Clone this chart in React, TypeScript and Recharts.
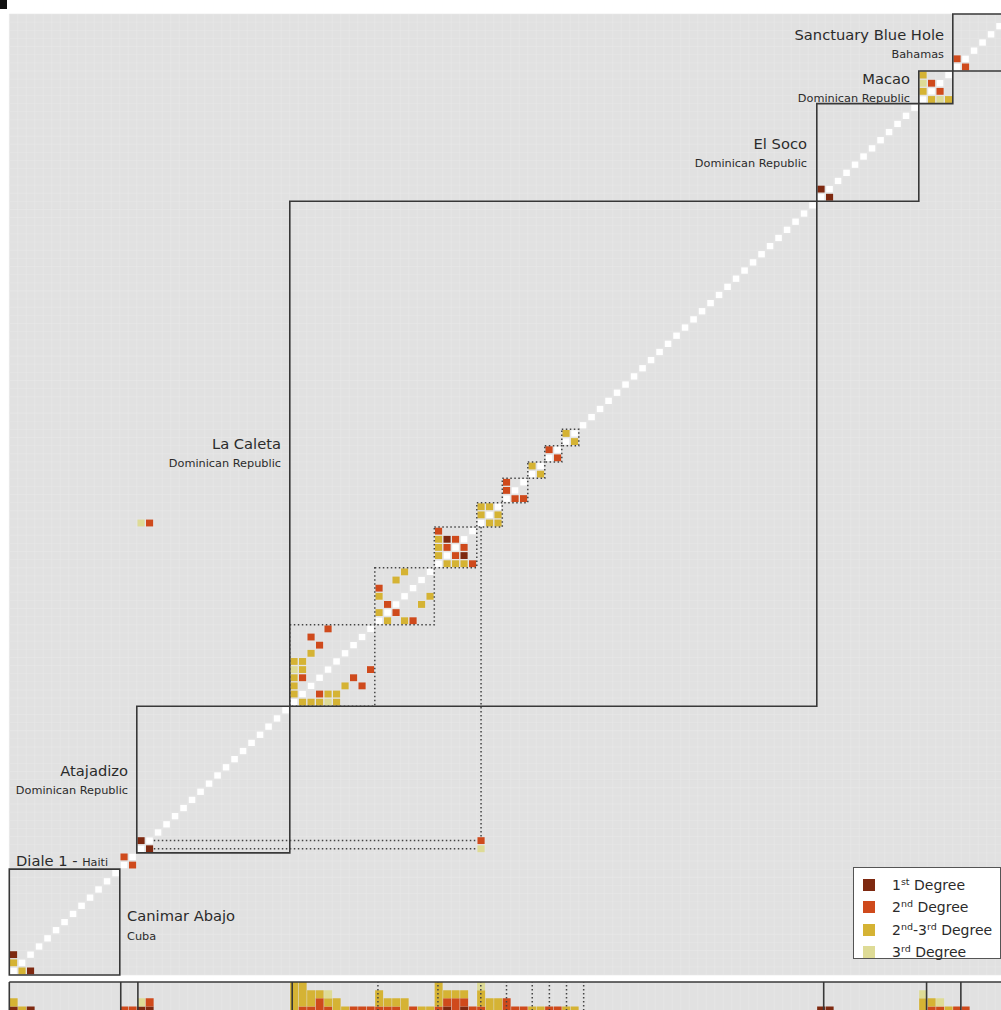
import React from 'react';
import {
  ComposedChart,
  XAxis,
  YAxis,
  ReferenceArea,
  ReferenceLine,
  CartesianGrid,
  Bar,
} from 'recharts';

// ---------------- data ----------------
const INDIVIDUALS = 118;

const siteNames = ['Canimar Abajo', 'Diale 1', 'Atajadizo', 'La Caleta', 'El Soco', 'Macao', 'Sanctuary Blue Hole'];
const siteCountries = ['Cuba', 'Haiti', 'Dominican Republic', 'Dominican Republic', 'Dominican Republic', 'Dominican Republic', 'Bahamas'];
const siteStarts = [0, 13, 15, 33, 95, 107, 111];
const siteEnds = [13, 15, 33, 95, 107, 111, 118];
const siteBoxed = [true, false, true, true, true, true, true];

const clusterStarts = [33, 43, 50, 55, 58, 61, 63, 65];
const clusterEnds = [43, 50, 55, 58, 61, 63, 65, 67];

const firstDegree = [[0, 2], [15, 16], [51, 53], [95, 96]];
const secondDegree = [
  [13, 14], [16, 55], [34, 36], [35, 41], [36, 40], [37, 42], [43, 47], [44, 45],
  [50, 54], [51, 52], [52, 53], [58, 59], [58, 60], [63, 64], [108, 109], [111, 112],
];
const secondThirdDegree = [
  [0, 1], [33, 34], [33, 35], [33, 36], [33, 38], [34, 37], [34, 38], [35, 39],
  [43, 44], [43, 46], [45, 48], [46, 49], [50, 51], [50, 52], [50, 53], [55, 56], [55, 57],
  [56, 57], [61, 62], [65, 66], [107, 108], [107, 110],
];
const thirdDegree = [[15, 55], [33, 37], [107, 109]];

const degreeKeys = ['first', 'second', 'secondThird', 'third'];
const degreeColors = ['#7e2910', '#cf4a1c', '#d5b334', '#dedb96'];
const degreeMain = ['1', '2', '2', '3'];
const degreeSup = ['st', 'nd', 'nd', 'rd'];
const degreeMid = ['', '', '-3', ''];
const degreeSup2 = ['', '', 'rd', ''];

const relationsByDegree = [firstDegree, secondDegree, secondThirdDegree, thirdDegree];

// connector dotted lines: [x1, y1, x2, y2] in matrix units
const connectorX1 = [17, 17, 55.5];
const connectorY1 = [16.5, 15.5, 17];
const connectorX2 = [55, 55, 55.5];
const connectorY2 = [16.5, 15.5, 55];

// ---------------- derived ----------------
const ids = Array.from({ length: INDIVIDUALS }, (_, i) => i);

type Cell = { c: number; r: number; color: string };
const cells: Cell[] = [];
relationsByDegree.forEach((pairs, d) => {
  pairs.forEach(([a, b]) => {
    cells.push({ c: a, r: b, color: degreeColors[d] });
    cells.push({ c: b, r: a, color: degreeColors[d] });
  });
});

const countData = ids.map((id) => {
  const row: any = { id, first: 0, second: 0, secondThird: 0, third: 0 };
  relationsByDegree.forEach((pairs, d) => {
    pairs.forEach(([a, b]) => {
      if (a === id || b === id) row[degreeKeys[d]] += 1;
    });
  });
  return row;
});

const INSET = 0.08;
const BG = '#e1e1e1';
const GRIDLINE = '#e7e7e7';
const BOX = '#383838';
const DOT = '#444';
const DASH = '1.5 2.5';
const TXT = '#2b2b2b';

const vGen = ({ xAxis, offset }: any) => {
  const t = Array.from({ length: INDIVIDUALS + 1 }, (_, i) => i);
  if (xAxis && typeof xAxis.scale === 'function') return t.map((v) => xAxis.scale(v));
  return t.map((v) => offset.left + (v * offset.width) / INDIVIDUALS);
};
const hGen = ({ yAxis, offset }: any) => {
  const t = Array.from({ length: INDIVIDUALS + 1 }, (_, i) => i);
  if (yAxis && typeof yAxis.scale === 'function') return t.map((v) => yAxis.scale(v));
  return t.map((v) => offset.top + (v * offset.height) / INDIVIDUALS);
};

function MainMatrix() {
  return (
    <ComposedChart
      width={1020}
      height={978}
      margin={{ top: 14, right: 7.7, bottom: 3, left: 9.3 }}
      data={[]}
    >
      <XAxis type="number" dataKey="x" domain={[0, INDIVIDUALS]} hide allowDataOverflow />
      <YAxis type="number" domain={[0, INDIVIDUALS]} hide allowDataOverflow />
      <CartesianGrid
        fill={BG}
        stroke={GRIDLINE}
        strokeWidth={0.6}
        verticalCoordinatesGenerator={vGen}
        horizontalCoordinatesGenerator={hGen}
      />
      {ids.map((i) => (
        <ReferenceArea
          key={'d' + i}
          x1={i + 0.11}
          x2={i + 0.89}
          y1={i + 0.11}
          y2={i + 0.89}
          fill="#ffffff"
          fillOpacity={1}
          stroke="none"
        />
      ))}
      {cells.map((cell, k) => (
        <ReferenceArea
          key={'c' + k}
          x1={cell.c + INSET}
          x2={cell.c + 1 - INSET}
          y1={cell.r + INSET}
          y2={cell.r + 1 - INSET}
          fill={cell.color}
          fillOpacity={1}
          stroke="none"
        />
      ))}
      {clusterStarts.map((s, k) => (
        <ReferenceArea
          key={'cl' + k}
          x1={s}
          x2={clusterEnds[k]}
          y1={s}
          y2={clusterEnds[k]}
          fill="none"
          stroke={DOT}
          strokeWidth={1.5}
          strokeDasharray={DASH}
        />
      ))}
      {connectorX1.map((x, k) => (
        <ReferenceLine
          key={'cn' + k}
          segment={[
            { x, y: connectorY1[k] },
            { x: connectorX2[k], y: connectorY2[k] },
          ]}
          stroke={DOT}
          strokeWidth={1.5}
          strokeDasharray={DASH}
        />
      ))}
      {siteStarts.map((s, k) =>
        siteBoxed[k] ? (
          <ReferenceArea
            key={'s' + k}
            x1={s}
            x2={siteEnds[k]}
            y1={s}
            y2={siteEnds[k]}
            fill="none"
            stroke={BOX}
            strokeWidth={1.6}
          />
        ) : null
      )}
    </ComposedChart>
  );
}

function BottomPanel() {
  return (
    <ComposedChart
      width={1020}
      height={40}
      margin={{ top: 4, right: 7.7, bottom: 3.4, left: 9.3 }}
      data={countData}
      barCategoryGap="4%"
    >
      <XAxis xAxisId="cat" dataKey="id" type="category" hide />
      <XAxis xAxisId="num" type="number" domain={[0, INDIVIDUALS]} hide allowDataOverflow />
      <YAxis type="number" domain={[0, 4]} hide allowDataOverflow />
      <CartesianGrid
        xAxisId="num"
        fill={BG}
        stroke={GRIDLINE}
        strokeWidth={0.6}
        horizontal={false}
        verticalCoordinatesGenerator={vGen}
      />
      {degreeKeys.map((k, d) => (
        <Bar
          key={k}
          xAxisId="cat"
          dataKey={k}
          stackId="s"
          fill={degreeColors[d]}
          isAnimationActive={false}
        />
      ))}
      {clusterEnds.map((x, k) => (
        <ReferenceLine
          key={'bd' + k}
          xAxisId="num"
          x={x}
          stroke={DOT}
          strokeWidth={1.5}
          strokeDasharray={DASH}
        />
      ))}
      <ReferenceLine xAxisId="num" y={4} stroke={BOX} strokeWidth={1.6} />
      <ReferenceLine xAxisId="num" x={0} stroke={BOX} strokeWidth={1.6} />
      {siteEnds.slice(0, siteEnds.length - 1).map((x, k) => (
        <ReferenceLine key={'bs' + k} xAxisId="num" x={x} stroke={BOX} strokeWidth={1.6} />
      ))}
    </ComposedChart>
  );
}

// label placement (page px): x, baseline y, anchor
const labelX = [127, 16, 128, 281, 807, 910, 944];
const labelY = [921, 866, 776, 449, 149, 84, 40];
const countryY = [940, 866, 794, 467, 167, 102, 58];
const labelAnchor = ['start', 'start', 'end', 'end', 'end', 'end', 'end'];

function Labels() {
  return (
    <svg
      width={1001}
      height={1010}
      style={{ position: 'absolute', left: 0, top: 0, pointerEvents: 'none' }}
    >
      {siteNames.map((name, k) => {
        if (name === 'Diale 1') {
          return (
            <text key={k} x={labelX[k]} y={labelY[k]} fill={TXT} fontFamily="DejaVu Sans">
              <tspan fontSize={14.7}>{name + ' - '}</tspan>
              <tspan fontSize={11.2}>{siteCountries[k]}</tspan>
            </text>
          );
        }
        return (
          <g key={k}>
            <text
              x={labelX[k]}
              y={labelY[k]}
              fill={TXT}
              fontFamily="DejaVu Sans"
              fontSize={14.7}
              textAnchor={labelAnchor[k] as any}
            >
              {name}
            </text>
            <text
              x={labelX[k]}
              y={countryY[k]}
              fill={TXT}
              fontFamily="DejaVu Sans"
              fontSize={11.3}
              textAnchor={labelAnchor[k] as any}
            >
              {siteCountries[k]}
            </text>
          </g>
        );
      })}
    </svg>
  );
}

function Legend() {
  const sup: React.CSSProperties = { fontSize: 9.5, position: 'relative', top: -5 };
  return (
    <div
      style={{
        position: 'absolute',
        left: 853,
        top: 867,
        width: 148,
        height: 92,
        background: '#ffffff',
        border: '1px solid #555',
        boxSizing: 'border-box',
        fontFamily: 'DejaVu Sans',
        fontSize: 14,
        color: TXT,
      }}
    >
      {degreeColors.map((col, d) => (
        <div
          key={d}
          style={{
            position: 'absolute',
            left: 9,
            top: 8 + d * 22.3,
            height: 18,
            display: 'flex',
            alignItems: 'center',
            whiteSpace: 'nowrap',
          }}
        >
          <div style={{ width: 12, height: 12, background: col, marginRight: 17 }} />
          <span>
            {degreeMain[d]}
            <span style={sup}>{degreeSup[d]}</span>
            {degreeMid[d]}
            {degreeSup2[d] ? <span style={sup}>{degreeSup2[d]}</span> : null}
            {' Degree'}
          </span>
        </div>
      ))}
    </div>
  );
}

export default function App() {
  return (
    <div
      style={{
        position: 'absolute',
        left: 0,
        top: 0,
        width: 1001,
        height: 1010,
        overflow: 'hidden',
        background: '#ffffff',
      }}
    >
      <div style={{ position: 'absolute', left: 0, top: 0, width: 7, height: 9, background: '#111' }} />
      <div style={{ position: 'absolute', left: 0, top: 0 }}>
        <MainMatrix />
      </div>
      <div style={{ position: 'absolute', left: 0, top: 978 }}>
        <BottomPanel />
      </div>
      <Labels />
      <Legend />
    </div>
  );
}
